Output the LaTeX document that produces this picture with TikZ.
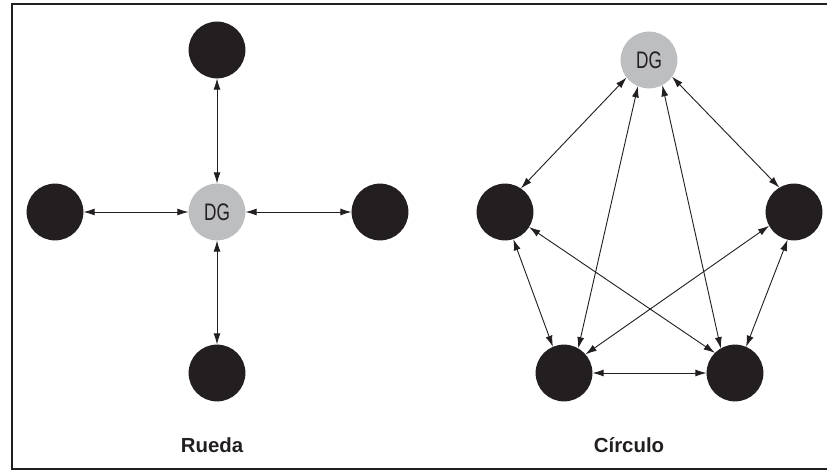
\documentclass[tikz,border=0pt]{standalone}
\usepackage{fontspec}
\setmainfont{Liberation Sans}
\newfontfamily\dgfont[FakeStretch=0.72]{Liberation Sans}
\usetikzlibrary{arrows.meta}
\definecolor{nodeblack}{HTML}{231F20}
\definecolor{dggray}{HTML}{BCBEC0}

\begin{document}
\begin{tikzpicture}[x=0.025cm,y=-0.025cm,>={Latex[length=8pt,width=5pt]},
  member/.style={circle,fill=nodeblack,minimum size=1.42cm,inner sep=0pt,outer sep=0pt},
  boss/.style={member,fill=dggray,text=nodeblack,font=\dgfont\fontsize{17}{17}\selectfont},
  link/.style={<->,line width=0.65pt,nodeblack},
  caption/.style={anchor=base,text=nodeblack,font=\bfseries\fontsize{14.5}{14.5}\selectfont}]
\useasboundingbox (0,0) rectangle (827,471);
\draw[line width=1.5pt,nodeblack] (840,4) -- (12,4) -- (12,469) -- (840,469);
% wheel
\node[boss] (hub) at (217,212) {DG};
\node[member] (top) at (217,50) {};
\node[member] (west) at (55,212) {};
\node[member] (east) at (380,212) {};
\node[member] (south) at (217,373) {};
\foreach \n in {top,west,east,south}
  \draw[link] (hub) -- (\n);
\node[caption] (wheel) at (212,452) {Rueda};
% circle
\node[boss] (dg) at (649,60) {DG};
\node[member] (cl) at (505,212) {};
\node[member] (cr) at (794,212) {};
\node[member] (cbl) at (564,373) {};
\node[member] (cbr) at (735,373) {};
\draw[link] (dg.218) -- (cl.56);
\draw[link] (dg.247) -- (cbl.60);
\draw[link] (dg.298) -- (cbr.120);
\draw[link] (dg.324) -- (cr.121);
\draw[link] (cl.287) -- (cbl.113);
\draw[link] (cl.328) -- (cbr.135);
\draw[link] (cr.209) -- (cbl.41);
\draw[link] (cr.257) -- (cbr.67);
\draw[link] (cbl) -- (cbr);
\node[caption] (ring) at (629,452) {Círculo};
\end{tikzpicture}
\end{document}
